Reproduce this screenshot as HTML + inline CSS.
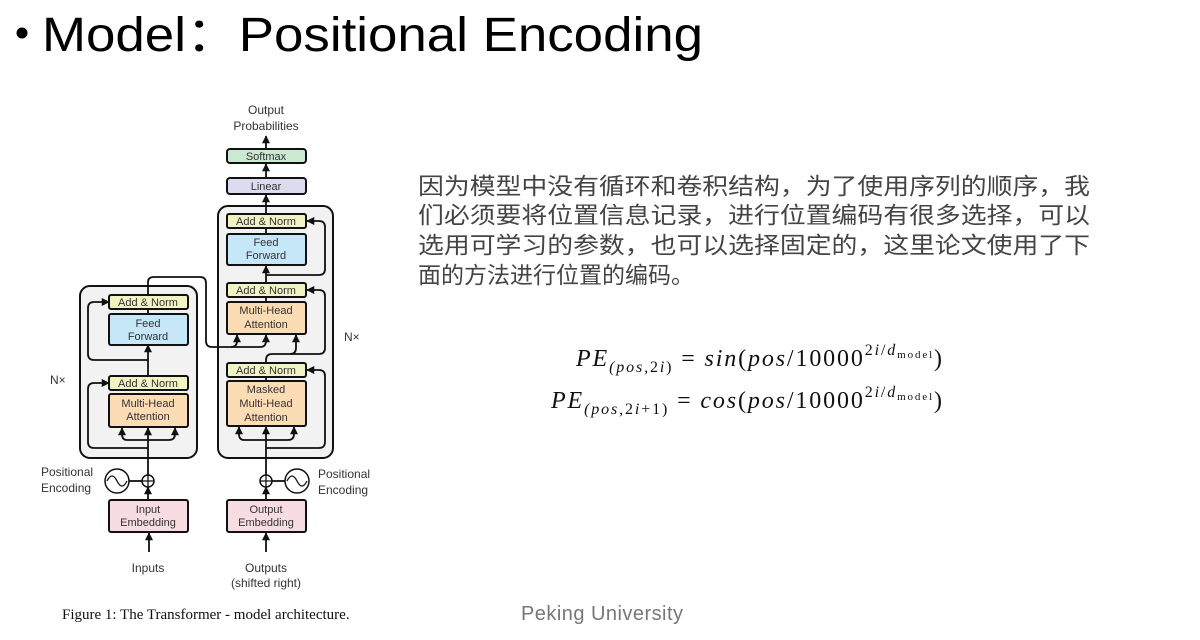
<!DOCTYPE html>
<html><head><meta charset="utf-8"><style>
html,body{margin:0;padding:0;background:#fff;}
svg{display:block}
</style></head><body>
<svg width="1200" height="640" viewBox="0 0 1200 640" xmlns="http://www.w3.org/2000/svg">
<defs>
<marker id="a" viewBox="0 0 10 10" refX="9" refY="5" markerWidth="4.5" markerHeight="4.5" orient="auto"><path d="M0,0 L10,5 L0,10 z" fill="#111"/></marker>
</defs>
<circle cx="22" cy="33" r="5.5" fill="#000"/>
<text x="42" y="51" font-family="Liberation Sans, sans-serif" font-size="48" fill="#000" textLength="661" lengthAdjust="spacingAndGlyphs">Model：Positional  Encoding</text>

<rect x="80" y="286" width="117" height="172" rx="10" fill="#f2f2f2" stroke="#111" stroke-width="2"/>
<rect x="218" y="206" width="115" height="252" rx="10" fill="#f2f2f2" stroke="#111" stroke-width="2"/>

<g fill="none" stroke="#111" stroke-width="1.8">
<path d="M148 532 V520" />
<path d="M148 500 V487" marker-end="url(#a)"/>
<path d="M148 475 V428" marker-end="url(#a)"/>
<path d="M148 440 H127 Q122 440 122 434 V428" marker-end="url(#a)"/>
<path d="M148 440 H169 Q175 440 175 434 V428" marker-end="url(#a)"/>
<path d="M148 448 H94 Q88 448 88 442 V389 Q88 383 94 383 H109" marker-end="url(#a)"/>
<path d="M148 376 V345" marker-end="url(#a)"/>
<path d="M148 360 H94 Q88 360 88 354 V308 Q88 302 94 302 H109" marker-end="url(#a)"/>
<path d="M148 314 V309"/>
<path d="M148 295 V282 Q148 277 154 277 H200 Q206 277 206 283 V341 Q206 347 212 347 H260 Q266 347 266 341 V335" marker-end="url(#a)"/>
<path d="M231 347 Q237 347 237 341 V335" marker-end="url(#a)"/>
<path d="M266 552 V533" marker-end="url(#a)"/>
<path d="M266 500 V487" marker-end="url(#a)"/>
<path d="M266 475 V427" marker-end="url(#a)"/>
<path d="M266 440 H244 Q239 440 239 434 V427" marker-end="url(#a)"/>
<path d="M266 440 H288 Q294 440 294 434 V427" marker-end="url(#a)"/>
<path d="M266 448 H319 Q325 448 325 442 V376 Q325 370 319 370 H307" marker-end="url(#a)"/>
<path d="M266 377 V381"/>
<path d="M266 363 V360 Q266 354 272 354 H290 Q296 354 296 348 V335" marker-end="url(#a)"/>
<path d="M290 354 H319 Q325 354 325 348 V296 Q325 290 319 290 H307" marker-end="url(#a)"/>
<path d="M266 297 V302"/>
<path d="M266 283 V266" marker-end="url(#a)"/>
<path d="M266 275 H319 Q325 275 325 269 V227 Q325 221 319 221 H307" marker-end="url(#a)"/>
<path d="M266 228 V234"/>
<path d="M266 214 V195" marker-end="url(#a)"/>
<path d="M266 178 V164" marker-end="url(#a)"/>
<path d="M266 149 V136" marker-end="url(#a)"/>
<path d="M149 552 V533" marker-end="url(#a)"/>
<path d="M129 481 H142"/>
<path d="M272 481 H285"/>
</g>

<g fill="#fff" stroke="#111" stroke-width="1.5">
<circle cx="148" cy="481" r="6"/><circle cx="266" cy="481" r="6"/>
<circle cx="117" cy="481" r="12"/><circle cx="297" cy="481" r="12"/>
</g>
<g fill="none" stroke="#111" stroke-width="1.3">
<path d="M142 481 H154 M148 475 V487 M260 481 H272 M266 475 V487"/>
<path d="M107 481 Q112 471 117 481 T127 481"/>
<path d="M287 481 Q292 471 297 481 T307 481"/>
</g>

<g stroke="#111" stroke-width="2">
<rect x="109" y="295" width="79" height="14" rx="2" fill="#f0f4c3"/>
<rect x="109" y="314" width="79" height="31" rx="2" fill="#c5e7f7"/>
<rect x="109" y="376" width="79" height="14" rx="2" fill="#f0f4c3"/>
<rect x="109" y="394" width="79" height="33" rx="2" fill="#fcdcb4"/>
<rect x="109" y="500" width="79" height="32" rx="2" fill="#f7dde2"/>
<rect x="227" y="214" width="79" height="14" rx="2" fill="#f0f4c3"/>
<rect x="227" y="234" width="79" height="31" rx="2" fill="#c5e7f7"/>
<rect x="227" y="283" width="79" height="14" rx="2" fill="#f0f4c3"/>
<rect x="227" y="302" width="79" height="32" rx="2" fill="#fcdcb4"/>
<rect x="227" y="363" width="79" height="14" rx="2" fill="#f0f4c3"/>
<rect x="227" y="381" width="79" height="45" rx="2" fill="#fcdcb4"/>
<rect x="227" y="500" width="79" height="32" rx="2" fill="#f7dde2"/>
<rect x="227" y="178" width="79" height="16" rx="3" fill="#dcdcf0"/>
<rect x="227" y="149" width="79" height="14" rx="3" fill="#cbe8d0"/>
</g>
<g font-family="Liberation Sans, sans-serif" font-size="11" fill="#333" text-anchor="middle">
<text x="148" y="306">Add &amp; Norm</text>
<text x="148" y="327">Feed</text><text x="148" y="340">Forward</text>
<text x="148" y="387">Add &amp; Norm</text>
<text x="148" y="407">Multi-Head</text><text x="148" y="420">Attention</text>
<text x="148" y="513">Input</text><text x="148" y="526">Embedding</text>
<text x="266" y="225">Add &amp; Norm</text>
<text x="266" y="246">Feed</text><text x="266" y="259">Forward</text>
<text x="266" y="294">Add &amp; Norm</text>
<text x="266" y="314">Multi-Head</text><text x="266" y="328">Attention</text>
<text x="266" y="374">Add &amp; Norm</text>
<text x="266" y="393">Masked</text><text x="266" y="407">Multi-Head</text><text x="266" y="421">Attention</text>
<text x="266" y="513">Output</text><text x="266" y="526">Embedding</text>
<text x="266" y="190">Linear</text>
<text x="266" y="160">Softmax</text>
<text x="266" y="114" font-size="12">Output</text>
<text x="266" y="130" font-size="12">Probabilities</text>
<text x="148" y="572" font-size="12">Inputs</text>
<text x="266" y="572" font-size="12">Outputs</text>
<text x="266" y="587" font-size="12">(shifted right)</text>
</g>
<g font-family="Liberation Sans, sans-serif" font-size="12" fill="#333">
<text x="41" y="476">Positional</text><text x="41" y="492">Encoding</text>
<text x="318" y="478">Positional</text><text x="318" y="494">Encoding</text>
<text x="50" y="384">N×</text>
<text x="344" y="341">N×</text>
</g>
<text x="62" y="619" font-family="Liberation Serif, serif" font-size="15" fill="#111">Figure 1: The Transformer - model architecture.</text>

<g font-family="Liberation Sans, 'Noto Sans CJK SC', sans-serif" font-size="23" fill="#444">
<text x="418" y="194" textLength="672" lengthAdjust="spacingAndGlyphs">因为模型中没有循环和卷积结构，为了使用序列的顺序，我</text>
<text x="418" y="223" textLength="672" lengthAdjust="spacingAndGlyphs">们必须要将位置信息记录，进行位置编码有很多选择，可以</text>
<text x="418" y="253" textLength="672" lengthAdjust="spacingAndGlyphs">选用可学习的参数，也可以选择固定的，这里论文使用了下</text>
<text x="418" y="283">面的方法进行位置的编码。</text>
</g>

<g font-family="Liberation Serif, serif" fill="#111">
<text x="576" y="366" font-size="24" textLength="366" lengthAdjust="spacing"><tspan font-style="italic">PE</tspan><tspan font-size="16" dy="6" font-style="italic">(pos,</tspan><tspan font-size="16">2</tspan><tspan font-size="16" font-style="italic">i</tspan><tspan font-size="16">)</tspan><tspan dy="-6"> = </tspan><tspan font-style="italic">sin</tspan>(<tspan font-style="italic">pos</tspan>/10000<tspan font-size="16" dy="-11">2</tspan><tspan font-size="16" font-style="italic">i</tspan><tspan font-size="16">/</tspan><tspan font-size="16" font-style="italic">d</tspan><tspan font-size="11" dy="3">model</tspan><tspan dy="8">)</tspan></text>
<text x="551" y="408" font-size="24" textLength="391" lengthAdjust="spacing"><tspan font-style="italic">PE</tspan><tspan font-size="16" dy="6" font-style="italic">(pos,</tspan><tspan font-size="16">2</tspan><tspan font-size="16" font-style="italic">i</tspan><tspan font-size="16">+1)</tspan><tspan dy="-6"> = </tspan><tspan font-style="italic">cos</tspan>(<tspan font-style="italic">pos</tspan>/10000<tspan font-size="16" dy="-11">2</tspan><tspan font-size="16" font-style="italic">i</tspan><tspan font-size="16">/</tspan><tspan font-size="16" font-style="italic">d</tspan><tspan font-size="11" dy="3">model</tspan><tspan dy="8">)</tspan></text>
</g>

<text x="521" y="620" font-family="Liberation Sans, sans-serif" font-size="20" fill="#777" textLength="162">Peking University</text>
</svg>
</body></html>
